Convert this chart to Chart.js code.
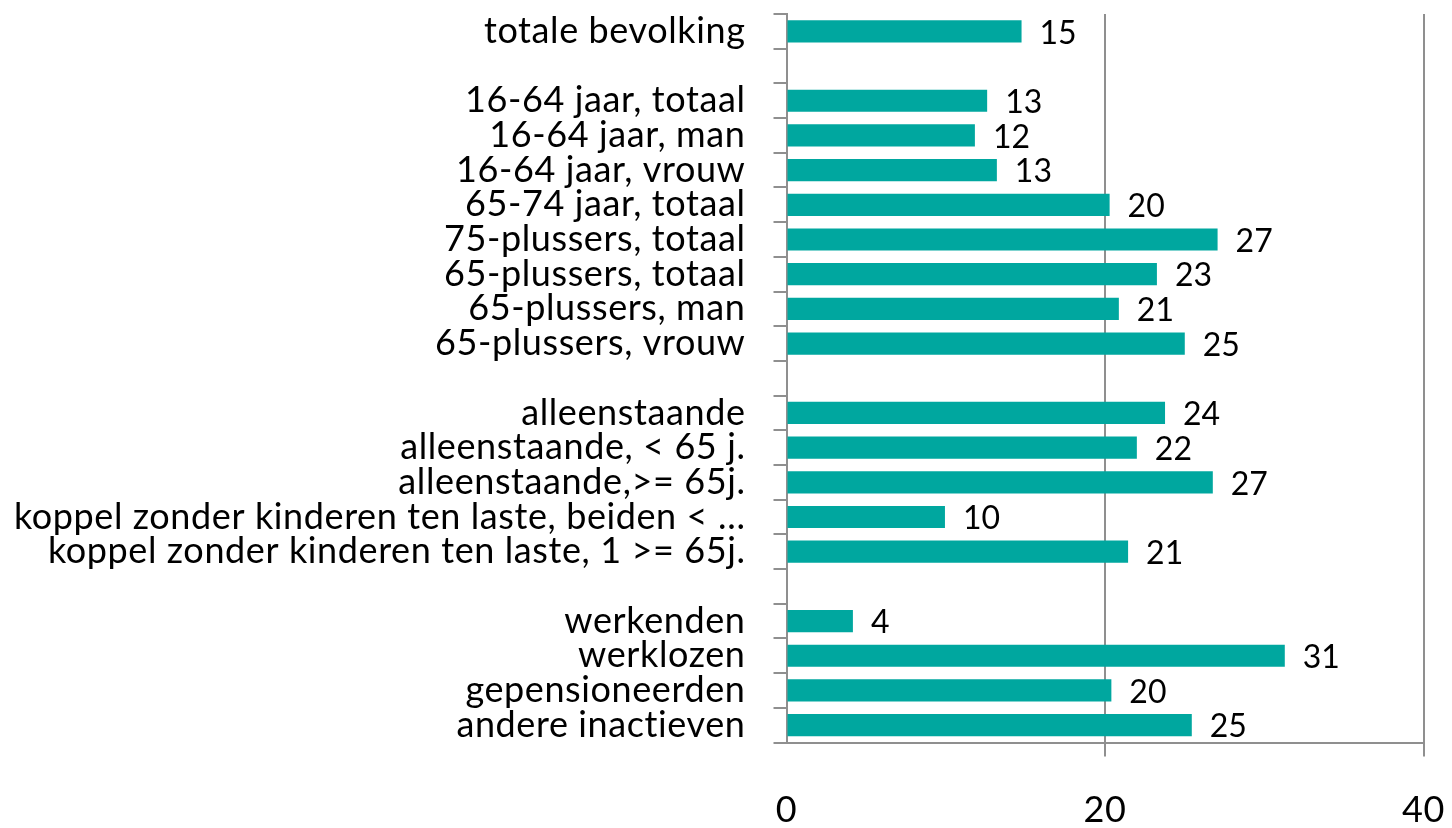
<!DOCTYPE html>
<html>
<head>
<meta charset="utf-8">
<script src="https://cdn.jsdelivr.net/npm/chart.js@4.4.1/dist/chart.umd.min.js"></script>
<style>
  html, body { margin: 0; padding: 0; background: #fff; }
  #wrap { width: 1452px; height: 828px; position: relative; }
</style>
</head>
<body>
<div id="wrap"><canvas id="c"></canvas></div>
<script>
// Categories (empty strings are the spacer rows between groups)
const categories = [
  'totale bevolking',
  '',
  '16-64 jaar, totaal',
  '16-64 jaar, man',
  '16-64 jaar, vrouw',
  '65-74 jaar, totaal',
  '75-plussers, totaal',
  '65-plussers, totaal',
  '65-plussers, man',
  '65-plussers, vrouw',
  '',
  'alleenstaande',
  'alleenstaande, < 65 j.',
  'alleenstaande,>= 65j.',
  'koppel zonder kinderen ten laste, beiden < \u2026',
  'koppel zonder kinderen ten laste, 1 >= 65j.',
  '',
  'werkenden',
  'werklozen',
  'gepensioneerden',
  'andere inactieven'
];

// Series values (null for spacer rows)
const values = [
  14.76,
  null,
  12.6, 11.83, 13.21, 20.29, 27.07, 23.26, 20.87, 25.01,
  null,
  23.77, 22.0, 26.77, 9.95, 21.45,
  null,
  4.17, 31.29, 20.4, 25.45
];

// X-axis tick values
const xTicks = [0, 20, 40];

const FONT = "Lato, 'Open Sans', 'Liberation Sans', sans-serif";
const BAR = '#00A79F';
const GRID = '#8f8f8f';

const spacing = {
  id: 'spacing',
  beforeDraw(chart) { chart.ctx.letterSpacing = '0.6px'; },
  beforeDatasetsDraw(chart) { chart.ctx.letterSpacing = '0px'; }
};

const dataLabels = {
  id: 'dataLabels',
  afterDatasetsDraw(chart) {
    const ctx = chart.ctx;
    const meta = chart.getDatasetMeta(0);
    ctx.save();
    ctx.font = "32px " + FONT;
    ctx.fillStyle = '#000';
    ctx.textAlign = 'left';
    ctx.textBaseline = 'middle';
    meta.data.forEach((el, i) => {
      const v = values[i];
      if (v === null || v === undefined) return;
      ctx.fillText(String(Math.round(v)), el.x + 18, el.y + 2);
    });
    ctx.restore();
  }
};

new Chart(document.getElementById('c'), {
  type: 'bar',
  data: {
    labels: categories,
    datasets: [{
      data: values,
      backgroundColor: BAR,
      borderWidth: 0,
      barPercentage: 0.64,
      categoryPercentage: 1.0
    }]
  },
  options: {
    indexAxis: 'y',
    responsive: true,
    maintainAspectRatio: false,
    animation: false,
    layout: { padding: 0 },
    plugins: {
      legend: { display: false },
      tooltip: { enabled: false }
    },
    scales: {
      x: {
        type: 'linear',
        min: xTicks[0],
        max: xTicks[xTicks.length - 1],
        afterBuildTicks(scale) { scale.ticks = xTicks.map(v => ({ value: v })); },
        afterFit(scale) {
          scale.height = 85.5;
          scale.paddingLeft = 0;
          scale.paddingRight = 28.5;
        },
        grid: {
          display: true,
          drawOnChartArea: true,
          drawTicks: true,
          tickLength: 14,
          color: (c) => (c.tick && c.tick.value === 0) ? 'rgba(0,0,0,0)' : GRID,
          lineWidth: 2
        },
        border: { display: true, color: GRID, width: 2 },
        ticks: {
          color: '#000',
          font: { family: FONT, size: 36 },
          padding: 32,
          maxRotation: 0
        }
      },
      y: {
        type: 'category',
        afterFit(scale) {
          scale.width = 786.5;
          scale.paddingTop = 14;
          scale.paddingBottom = 0;
        },
        grid: {
          display: true,
          offset: true,
          drawOnChartArea: false,
          drawTicks: true,
          tickLength: 13,
          color: GRID,
          lineWidth: 2
        },
        border: { display: true, color: GRID, width: 2 },
        ticks: {
          color: '#000',
          font: { family: FONT, size: 36 },
          padding: 28,
          autoSkip: false
        }
      }
    }
  },
  plugins: [spacing, dataLabels]
});
</script>
</body>
</html>
